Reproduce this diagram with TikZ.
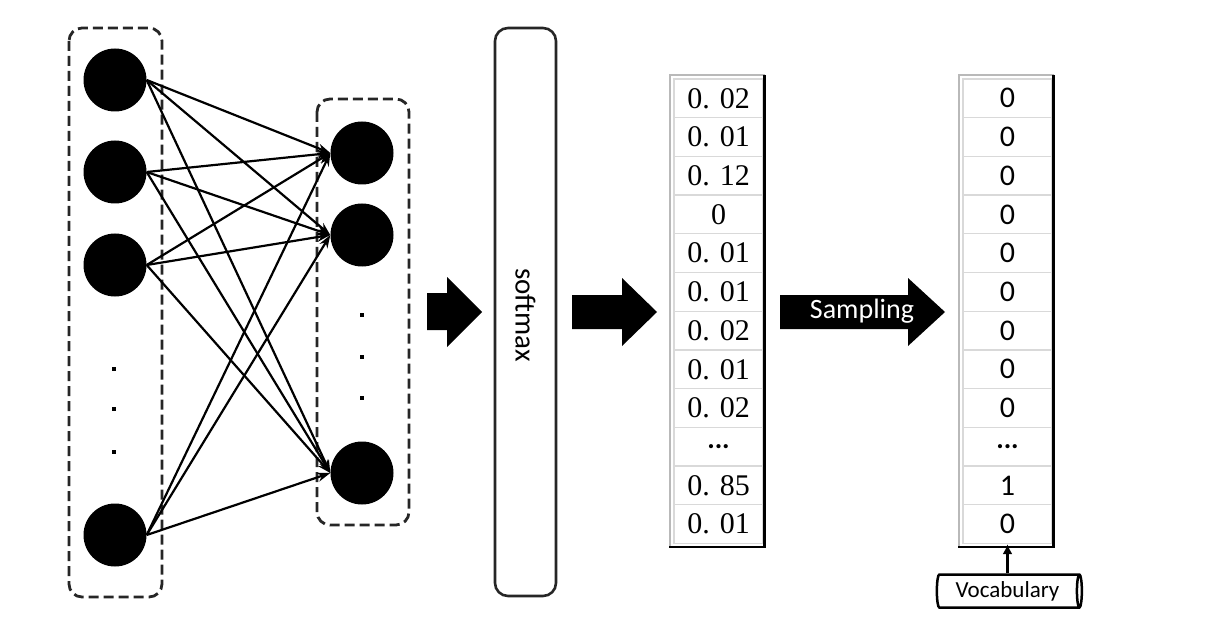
\documentclass[tikz,border=0pt]{standalone}
\usepackage{fontspec}
\setsansfont{Carlito}
\newfontfamily\numfont{Liberation Serif}
\usetikzlibrary{arrows.meta,shapes.geometric}

\newcommand{\rowdots}{{\sffamily\bfseries\fontsize{28}{28}\selectfont ...}}

\tikzset{
    neuron/.style={circle, fill=black, minimum size=63pt, inner sep=0pt},
    vdot/.style={rectangle, fill=black, minimum size=3.5pt, inner sep=0pt},
    layerbox/.style={draw=black!85, line width=2.8pt, rounded corners=13pt, dash pattern=on 10pt off 5pt},
    synapse/.style={-{Stealth[length=13pt,width=9pt]}, line width=2.2pt},
    probcell/.style={draw=gray!30, line width=1.4pt, minimum width=89pt, minimum height=38.7pt, inner sep=0pt, font=\numfont\fontsize{30}{30}\selectfont},
    onehotcell/.style={probcell, font=\sffamily\fontsize{30}{30}\selectfont},
}

\begin{document}
\begin{tikzpicture}[x=1pt,y=-1pt]
    \useasboundingbox (0,0) rectangle (1209,644);

    % input layer
    \draw[layerbox] (69,28) rectangle (162,597);
    \node[neuron] (in1) at (115,80) {};
    \node[neuron] (in2) at (115,172) {};
    \node[neuron] (in3) at (115,265) {};
    \node[neuron] (in4) at (115,535) {};
    \node[vdot] (indot1) at (114,369) {};
    \node[vdot] (indot2) at (114,409) {};
    \node[vdot] (indot3) at (114,452) {};

    % hidden layer
    \draw[layerbox] (317,99) rectangle (409,525);
    \node[neuron] (hid1) at (362,153) {};
    \node[neuron] (hid2) at (362,235) {};
    \node[neuron] (hid3) at (362,473) {};
    \node[vdot] (hiddot1) at (362,315) {};
    \node[vdot] (hiddot2) at (362,357) {};
    \node[vdot] (hiddot3) at (362,398) {};

    \foreach \a in {1,2,3,4}
        \foreach \b in {1,2,3}
            \draw[synapse] (in\a.east) -- (hid\b.west);

    \fill (427,293) -- (447,293) -- (447,277) -- (482,312) -- (447,347) -- (447,330) -- (427,330) -- cycle;

    % softmax
    \node[draw=black!85, line width=2.6pt, rounded corners=13pt, minimum width=61pt, minimum height=568pt] (softmax) at (525.5,312) {};
    \node[rotate=-90, font=\sffamily\fontsize{29}{29}\selectfont] (softmaxlabel) at (525.5,315) {softmax};

    \fill (572,295) -- (622,295) -- (622,278) -- (657,312) -- (622,346) -- (622,329) -- (572,329) -- cycle;

    % probabilities
    \foreach \v [count=\i] in {0. 02,0. 01,0. 12,0,0. 01,0. 01,0. 02,0. 01,0. 02,\rowdots,0. 85,0. 01}
        \node[probcell] (p\i) at (718.5,{79+38.7*\i-19.35}) {\v};
    \draw[gray!55, line width=1.4pt] (670,547) -- (670,75) -- (765,75);
    \draw[line width=2.8pt] (764.5,75) -- (764.5,547) -- (669,547);

    \fill (780,295) -- (908,295) -- (908,278) -- (945,312) -- (908,346) -- (908,329) -- (780,329) -- cycle;
    \node[text=white, font=\sffamily\fontsize{28}{28}\selectfont] (samplinglabel) at (862,311) {Sampling};

    % one-hot
    \foreach \v [count=\i] in {0,0,0,0,0,0,0,0,0,\rowdots,1,0}
        \node[onehotcell] (o\i) at (1007.5,{79+38.7*\i-19.35}) {\v};
    \draw[gray!55, line width=1.4pt] (959,547) -- (959,75) -- (1054,75);
    \draw[line width=2.8pt] (1053.5,75) -- (1053.5,547) -- (958,547);

    \node[cylinder, draw, line width=2.5pt, aspect=0.25, minimum height=145pt, minimum width=33pt, inner sep=0pt, font=\sffamily\fontsize{23}{23}\selectfont] (vocab) at (1007.5,591) {Vocabulary};
    \draw[-{Latex[length=10pt,width=10pt]}, line width=2.2pt] (o12.south |- vocab.north) -- (o12.south);
\end{tikzpicture}
\end{document}
